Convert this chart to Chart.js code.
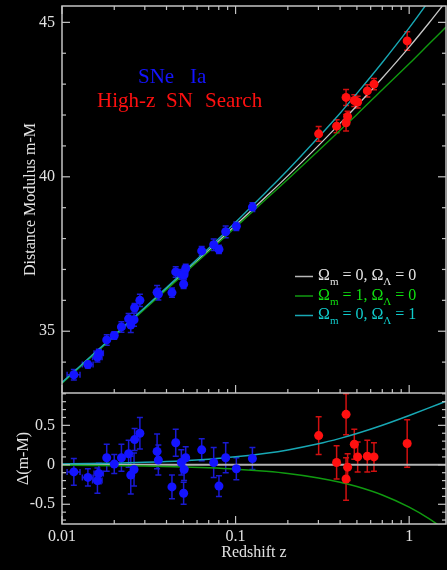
<!DOCTYPE html>
<html>
<head>
<meta charset="utf-8">
<script src="https://cdn.jsdelivr.net/npm/chart.js@4.4.1/dist/chart.umd.min.js"></script>
<style>
  html, body { margin: 0; padding: 0; background: #000; }
  body { width: 447px; height: 570px; position: relative; overflow: hidden; }
  canvas { position: absolute; left: 0; }
  #top { top: 0; }
  #bottom { top: 393px; }
</style>
</head>
<body>
<canvas id="top" width="447" height="393"></canvas>
<canvas id="bottom" width="447" height="177"></canvas>
<script>
// Calan/Tololo low-z SNe Ia (blue) and High-z SN Search (red)
const zBlue = [0.0117, 0.0141, 0.0160, 0.0163, 0.0181, 0.0200, 0.0220, 0.0242, 0.0249, 0.0262, 0.0260, 0.0281, 0.0353,
  0.0359, 0.0430, 0.0452, 0.0487, 0.0505, 0.0502, 0.0516, 0.0638, 0.0748, 0.0802, 0.0877, 0.101, 0.125];
const muBlue = [33.59, 33.92, 34.16, 34.29, 34.72, 34.86, 35.14, 35.40, 35.20, 35.76, 35.37, 36.00, 36.26,
  36.20, 36.25, 36.92, 36.84, 36.83, 36.52, 37.03, 37.60, 37.80, 37.65, 38.22, 38.40, 39.02];
const dBlue = [-0.09, -0.16, -0.20, -0.11, 0.09, 0.01, 0.09, 0.14, -0.13, 0.32, -0.06, 0.40, 0.17,
  0.06, -0.28, 0.28, 0.03, -0.06, -0.36, 0.09, 0.19, 0.03, -0.27, 0.09, -0.05, 0.08];
const errBlue = [0.17, 0.11, 0.16, 0.13, 0.17, 0.12, 0.17, 0.17, 0.24, 0.14, 0.21, 0.20, 0.22,
  0.19, 0.15, 0.17, 0.16, 0.14, 0.14, 0.14, 0.14, 0.19, 0.13, 0.19, 0.14, 0.14];
const zErrBlue = [0.001, 0.001, 0.001, 0.001, 0, 0, 0, 0, 0, 0, 0, 0, 0,
  0, 0, 0, 0, 0, 0, 0, 0, 0, 0, 0, 0, 0];

const zRed = [0.301, 0.382, 0.433, 0.433, 0.442, 0.483, 0.505, 0.574, 0.627, 0.974];
const muRed = [41.39, 41.64, 42.57, 41.75, 41.95, 42.47, 42.42, 42.78, 43.00, 44.40];
const dRed = [0.37, 0.03, 0.64, -0.18, -0.03, 0.26, 0.10, 0.11, 0.10, 0.27];
const errRed = [0.24, 0.21, 0.26, 0.27, 0.17, 0.19, 0.19, 0.20, 0.18, 0.30];

// model curves
const zModel = [0.01, 0.015, 0.02, 0.03, 0.05, 0.07, 0.1, 0.15, 0.2, 0.3, 0.4, 0.5, 0.7, 1.0, 1.3, 1.63];
const muEmpty = [33.33, 34.22, 34.85, 35.74, 36.87, 37.62, 38.43, 39.36, 40.03, 41.01, 41.73, 42.30, 43.20, 44.20, 44.98, 45.68];
const muMatter = [33.32, 34.21, 34.84, 35.72, 36.84, 37.58, 38.37, 39.28, 39.92, 40.84, 41.51, 42.02, 42.82, 43.66, 44.30, 44.85];
const muLambda = [33.34, 34.24, 34.87, 35.77, 36.92, 37.69, 38.53, 39.51, 40.22, 41.28, 42.06, 42.70, 43.70, 44.82, 45.70, 46.49];
const dMatter = [-0.005, -0.008, -0.011, -0.016, -0.027, -0.038, -0.055, -0.083, -0.110, -0.166, -0.221, -0.276, -0.383, -0.537, -0.682, -0.832];
const dLambda = [0.011, 0.016, 0.021, 0.032, 0.052, 0.072, 0.101, 0.147, 0.189, 0.266, 0.335, 0.396, 0.501, 0.625, 0.721, 0.806];

const legendOmegaM = ['0', '1', '0'];
const legendOmegaL = ['0', '0', '1'];

const xMajorTicks = [0.01, 0.1, 1];
const xMinorTicks = [0.02, 0.03, 0.04, 0.05, 0.06, 0.07, 0.08, 0.09, 0.2, 0.3, 0.4, 0.5, 0.6, 0.7, 0.8, 0.9];
const topMajorTicks = [35, 40, 45];
const topMinorTicks = [34, 36, 37, 38, 39, 41, 42, 43, 44];
const botMajorTicks = [-0.5, 0, 0.5];
const botMinorTicks = [-0.7, -0.6, -0.4, -0.3, -0.2, -0.1, 0.1, 0.2, 0.3, 0.4, 0.6, 0.7, 0.8, 0.9];

const SERIF = "'Liberation Serif', 'DejaVu Serif', serif";
const TEXT = '#e2e2e2';
const AXIS = '#c4c4c4';
const GRAY = '#c8c8c8', GREEN = '#109a10', CYAN = '#18a8b4';
const BLUE = '#1414ff', RED = '#ff1010';

const pts = (xs, ys) => xs.map((x, i) => ({x: x, y: ys[i]}));

// Chart.js reserves room for half a tick label at the axis ends; we don't want that
function fixWidth(w) {
  return s => { s.width = w; s.paddingTop = 0; s.paddingBottom = 0; s.paddingLeft = 0; s.paddingRight = 0; };
}
function fixHeight(h) {
  return s => { s.height = h; s.paddingTop = 0; s.paddingBottom = 0; s.paddingLeft = 0; s.paddingRight = 0; };
}

const errorBars = {
  id: 'errorBars',
  beforeDatasetsDraw(chart) {
    const {ctx, chartArea: a, scales: {x, y}} = chart;
    ctx.save();
    ctx.beginPath();
    ctx.rect(a.left, a.top, a.right - a.left, a.bottom - a.top);
    ctx.clip();
    ctx.lineWidth = 1.5;
    chart.data.datasets.forEach(ds => {
      if (!ds.errY) return;
      ctx.strokeStyle = ds.errColor;
      ds.data.forEach((p, i) => {
        const px = x.getPixelForValue(p.x);
        const y1 = y.getPixelForValue(p.y - ds.errY[i]);
        const y2 = y.getPixelForValue(p.y + ds.errY[i]);
        const py = y.getPixelForValue(p.y);
        ctx.beginPath();
        ctx.moveTo(px, y1); ctx.lineTo(px, y2);
        ctx.moveTo(px - 3, y1); ctx.lineTo(px + 3, y1);
        ctx.moveTo(px - 3, y2); ctx.lineTo(px + 3, y2);
        if (ds.errX && ds.errX[i]) {
          const x1 = x.getPixelForValue(p.x - ds.errX[i]);
          const x2 = x.getPixelForValue(p.x + ds.errX[i]);
          ctx.moveTo(x1, py); ctx.lineTo(x2, py);
          ctx.moveTo(x1, py - 3); ctx.lineTo(x1, py + 3);
          ctx.moveTo(x2, py - 3); ctx.lineTo(x2, py + 3);
        }
        ctx.stroke();
      });
    });
    ctx.restore();
  }
};

const frame = {
  id: 'frame',
  afterDraw(chart, args, opts) {
    const {ctx, chartArea: a, scales: {x, y}} = chart;
    ctx.save();
    ctx.strokeStyle = AXIS;
    ctx.lineWidth = 1.5;
    ctx.strokeRect(a.left, a.top, a.right - a.left, a.bottom - a.top);
    ctx.lineWidth = 1.2;
    const line = (x1, y1, x2, y2) => { ctx.beginPath(); ctx.moveTo(x1, y1); ctx.lineTo(x2, y2); ctx.stroke(); };
    opts.xSides.forEach(side => {
      const y0 = side === 'top' ? a.top : a.bottom;
      const dir = side === 'top' ? 1 : -1;
      xMajorTicks.forEach(v => { const px = x.getPixelForValue(v); line(px, y0, px, y0 + dir * 8); });
      xMinorTicks.forEach(v => { const px = x.getPixelForValue(v); line(px, y0, px, y0 + dir * 4); });
    });
    [[a.left, 1], [a.right, -1]].forEach(([x0, dir]) => {
      opts.yMajor.forEach(v => { const py = y.getPixelForValue(v); line(x0, py, x0 + dir * 8, py); });
      opts.yMinor.forEach(v => { const py = y.getPixelForValue(v); line(x0, py, x0 + dir * 4, py); });
    });
    ctx.restore();
  }
};

const annotations = {
  id: 'annotations',
  afterDraw(chart) {
    const ctx = chart.ctx;
    ctx.save();
    ctx.textBaseline = 'alphabetic';
    ctx.textAlign = 'left';
    ctx.font = '21px ' + SERIF;
    ctx.fillStyle = BLUE;
    ctx.fillText('SNe', 138, 82.5);
    ctx.fillText('Ia', 190, 82.5);
    ctx.fillStyle = RED;
    ctx.fillText('High-z', 97, 106.7);
    ctx.fillText('SN', 166, 106.7);
    ctx.fillText('Search', 205, 106.7);

    const rows = [
      {text: '#e6e6e6', line: '#b8b8b8', y: 276.5},
      {text: '#10e010', line: '#109a10', y: 296},
      {text: '#10cccc', line: '#18a8b4', y: 315.5}
    ];
    rows.forEach((r, i) => {
      ctx.strokeStyle = r.line;
      ctx.lineWidth = 1.5;
      ctx.beginPath(); ctx.moveTo(295, r.y); ctx.lineTo(313, r.y); ctx.stroke();
      ctx.fillStyle = r.text;
      const b = r.y + 3.8;
      let x = 318;
      const put = (s, size, dy) => {
        ctx.font = size + 'px ' + SERIF;
        ctx.fillText(s, x, b + dy);
        x += ctx.measureText(s).width;
      };
      put('\u03A9', 16, 0);
      put('m', 11, 5);
      put(' = ' + legendOmegaM[i] + ', \u03A9', 16, 0);
      put('\u039B', 11, 5);
      put(' = ' + legendOmegaL[i], 16, 0);
    });
    ctx.restore();
  }
};

const lineDs = (ys, color, w) => ({
  data: pts(zModel, ys), showLine: true, borderColor: color, borderWidth: w,
  pointRadius: 0, cubicInterpolationMode: 'monotone', fill: false
});
const pointDs = (xs, ys, color, err, errColor, errX) => ({
  data: pts(xs, ys), backgroundColor: color, pointRadius: 4.5, pointBorderWidth: 0,
  showLine: false, errY: err, errX: errX, errColor: errColor
});

const tickFont = {family: SERIF, size: 16};

new Chart(document.getElementById('top'), {
  type: 'scatter',
  data: {
    datasets: [
      pointDs(zBlue, muBlue, BLUE, errBlue, '#1a1ad2', zErrBlue),
      pointDs(zRed, muRed, RED, errRed, '#d01010'),
      lineDs(muLambda, CYAN, 1.4),
      lineDs(muMatter, GREEN, 1.4),
      lineDs(muEmpty, GRAY, 1.3)
    ]
  },
  options: {
    responsive: false,
    animation: false,
    devicePixelRatio: 1,
    layout: {autoPadding: false, padding: {top: 6, right: 1, left: 0, bottom: 0}},
    plugins: {
      legend: {display: false},
      tooltip: {enabled: false},
      frame: {xSides: ['top', 'bottom'], yMajor: topMajorTicks, yMinor: topMinorTicks}
    },
    scales: {
      x: {type: 'logarithmic', min: 0.01, max: 1.63, display: false, afterFit: fixHeight(0)},
      y: {
        min: 33.0, max: 45.53,
        afterFit: fixWidth(62),
        afterBuildTicks(s) { s.ticks = topMajorTicks.map(v => ({value: v})); },
        grid: {display: false, drawTicks: false},
        border: {display: false},
        ticks: {color: TEXT, font: tickFont, padding: 7, callback: v => String(v)},
        title: {display: true, text: 'Distance Modulus m-M', color: TEXT, font: tickFont, padding: {top: 21, bottom: 0}}
      }
    }
  },
  plugins: [errorBars, frame, annotations]
});

new Chart(document.getElementById('bottom'), {
  type: 'scatter',
  data: {
    datasets: [
      pointDs(zBlue, dBlue, BLUE, errBlue, '#1a1ad2', zErrBlue),
      pointDs(zRed, dRed, RED, errRed, '#d01010'),
      lineDs(dLambda, CYAN, 1.5),
      lineDs(dMatter, GREEN, 1.5),
      {data: pts([0.01, 1.63], [0, 0]), showLine: true, borderColor: '#b4b4b4', borderWidth: 2, pointRadius: 0}
    ]
  },
  options: {
    responsive: false,
    animation: false,
    devicePixelRatio: 1,
    layout: {autoPadding: false, padding: {top: 0, right: 1, left: 0, bottom: 0}},
    plugins: {
      legend: {display: false},
      tooltip: {enabled: false},
      frame: {xSides: ['bottom'], yMajor: botMajorTicks, yMinor: botMinorTicks}
    },
    scales: {
      x: {
        type: 'logarithmic', min: 0.01, max: 1.63,
        afterFit: fixHeight(46),
        afterBuildTicks(s) { s.ticks = xMajorTicks.map(v => ({value: v})); },
        grid: {display: false, drawTicks: false},
        border: {display: false},
        ticks: {color: TEXT, font: tickFont, padding: 3.5, maxRotation: 0, autoSkip: false, callback: v => String(v)},
        title: {display: true, text: 'Redshift z', color: TEXT, font: tickFont, padding: {top: 0, bottom: 7.5}}
      },
      y: {
        min: -0.75, max: 0.91,
        afterFit: fixWidth(62),
        afterBuildTicks(s) { s.ticks = botMajorTicks.map(v => ({value: v})); },
        grid: {display: false, drawTicks: false},
        border: {display: false},
        ticks: {color: TEXT, font: tickFont, padding: 7, callback: v => String(v)},
        title: {display: true, text: '\u0394(m-M)', color: TEXT, font: tickFont, padding: {top: 14.5, bottom: 0}}
      }
    }
  },
  plugins: [errorBars, frame]
});
</script>
</body>
</html>
